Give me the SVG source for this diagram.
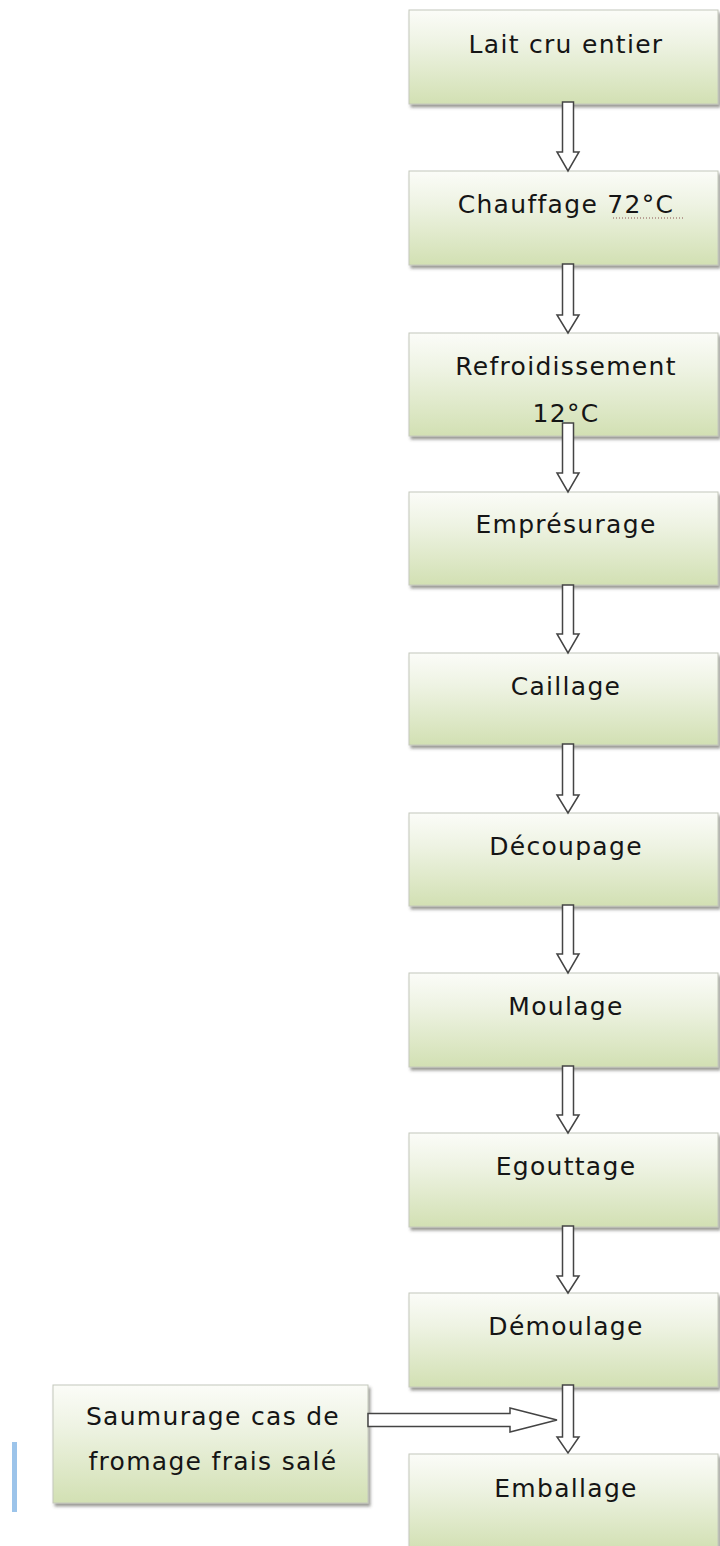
<svg xmlns="http://www.w3.org/2000/svg" width="720" height="1546" viewBox="0 0 720 1546">
<defs>
<linearGradient id="g" x1="0" y1="0" x2="0" y2="1">
<stop offset="0" stop-color="#fbfcf8"/>
<stop offset="0.35" stop-color="#eef3e3"/>
<stop offset="1" stop-color="#d2e0b3"/>
</linearGradient>
<filter id="sh" x="-5%" y="-10%" width="115%" height="130%">
<feDropShadow dx="2" dy="3" stdDeviation="1.4" flood-color="#4a4a40" flood-opacity="0.55"/>
</filter>
<style>
.box{fill:url(#g);stroke:#c4c8bb;stroke-width:1;filter:url(#sh)}
.t{font-family:"DejaVu Sans","Liberation Sans",sans-serif;font-size:25px;letter-spacing:1.3px;fill:#151515;text-anchor:middle}
.ar{fill:#ffffff;stroke:#444444;stroke-width:1.5;stroke-linejoin:miter}
</style>
</defs>
<rect width="720" height="1546" fill="#ffffff"/>
<rect x="12" y="1442" width="5" height="70" fill="#9cc4ea"/>
<g id="n1"><rect class="box" x="409" y="10" width="309" height="94"/><text class="t" x="566" y="53">Lait cru entier</text></g>
<g id="n2"><rect class="box" x="409" y="171" width="309" height="94"/><text class="t" x="566" y="213">Chauffage 72°C</text><line x1="613" y1="218" x2="683" y2="218" stroke="#8a5050" stroke-width="1" stroke-dasharray="1 2"/></g>
<g id="n3"><rect class="box" x="409" y="333" width="309" height="103"/><text class="t" x="566" y="375">Refroidissement</text><text class="t" x="566" y="422">12°C</text></g>
<g id="n4"><rect class="box" x="409" y="492" width="309" height="93"/><text class="t" x="566" y="533">Emprésurage</text></g>
<g id="n5"><rect class="box" x="409" y="653" width="309" height="92"/><text class="t" x="566" y="695">Caillage</text></g>
<g id="n6"><rect class="box" x="409" y="813" width="309" height="93"/><text class="t" x="566" y="855">Découpage</text></g>
<g id="n7"><rect class="box" x="409" y="973" width="309" height="94"/><text class="t" x="566" y="1015">Moulage</text></g>
<g id="n8"><rect class="box" x="409" y="1133" width="309" height="94"/><text class="t" x="566" y="1175">Egouttage</text></g>
<g id="n9"><rect class="box" x="409" y="1293" width="309" height="94"/><text class="t" x="566" y="1335">Démoulage</text></g>
<g id="n10"><rect class="box" x="409" y="1454" width="309" height="96"/><text class="t" x="566" y="1497">Emballage</text></g>
<g id="n11"><rect class="box" x="53" y="1385" width="315" height="118"/><text class="t" x="213" y="1425">Saumurage cas de</text><text class="t" x="213" y="1470">fromage frais salé</text></g>
<g id="connectors">
<path class="ar" d="M562.5,102 H573.5 V152 H579 L568,171 L557,152 H562.5 Z"/>
<path class="ar" d="M562.5,264 H573.5 V315 H579 L568,333 L557,315 H562.5 Z"/>
<path class="ar" d="M562.5,423 H573.5 V473 H579 L568,492 L557,473 H562.5 Z"/>
<path class="ar" d="M562.5,585 H573.5 V634 H579 L568,653 L557,634 H562.5 Z"/>
<path class="ar" d="M562.5,744 H573.5 V795 H579 L568,813 L557,795 H562.5 Z"/>
<path class="ar" d="M562.5,905 H573.5 V954 H579 L568,973 L557,954 H562.5 Z"/>
<path class="ar" d="M562.5,1066 H573.5 V1115 H579 L568,1133 L557,1115 H562.5 Z"/>
<path class="ar" d="M562.5,1226 H573.5 V1276 H579 L568,1293 L557,1276 H562.5 Z"/>
<path class="ar" d="M562.5,1385 H573.5 V1437 H579 L568,1453 L557,1437 H562.5 Z"/>
<path class="ar" d="M368,1413.5 H510 V1408 L557,1420 L510,1432 V1426.5 H368 Z"/>
</g>
</svg>
